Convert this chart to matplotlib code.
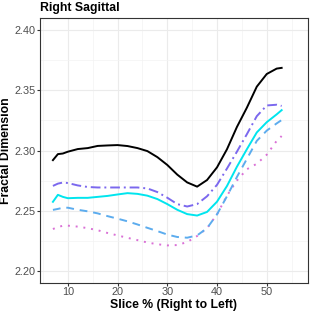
import matplotlib
matplotlib.use("Agg")
from matplotlib import pyplot as plt
from matplotlib.ticker import MultipleLocator

plt.rcParams['font.family'] = ['Liberation Sans', 'DejaVu Sans']

# slice positions (% right to left)
slice_pct = [7, 8, 9, 10, 12, 14, 16, 18, 20, 22, 24, 26, 28, 30, 32, 34,
             36, 38, 40, 42, 44, 46, 48, 50, 52, 53]

fd_black = [2.2920, 2.2970, 2.2975, 2.2990, 2.3012, 2.3020, 2.3038, 2.3042,
            2.3045, 2.3037, 2.3020, 2.2995, 2.2945, 2.2880, 2.2800, 2.2735,
            2.2700, 2.2755, 2.2860, 2.3010, 2.3195, 2.3355, 2.3530, 2.3635,
            2.3680, 2.3686]
fd_dashdot = [2.2706, 2.2725, 2.2734, 2.2730, 2.2710, 2.2697, 2.2693, 2.2693,
              2.2693, 2.2693, 2.2693, 2.2685, 2.2655, 2.2608, 2.2555, 2.2535,
              2.2555, 2.2620, 2.2715, 2.2850, 2.2990, 2.3135, 2.3285, 2.3374,
              2.3380, 2.3370]
fd_cyan = [2.2574, 2.2632, 2.2615, 2.2604, 2.2607, 2.2607, 2.2615, 2.2623,
           2.2635, 2.2646, 2.2640, 2.2625, 2.2597, 2.2555, 2.2508, 2.2472,
           2.2460, 2.2490, 2.2575, 2.2705, 2.2865, 2.3010, 2.3150, 2.3235,
           2.3300, 2.3335]
fd_dashed = [2.2507, 2.2515, 2.2525, 2.2525, 2.2508, 2.2495, 2.2478, 2.2455,
             2.2434, 2.2412, 2.2386, 2.2358, 2.2331, 2.2302, 2.2282, 2.2276,
             2.2295, 2.2355, 2.2470, 2.2620, 2.2780, 2.2930, 2.3080, 2.3165,
             2.3225, 2.3253]
fd_dotted = [2.2348, 2.2365, 2.2375, 2.2376, 2.2368, 2.2355, 2.2338, 2.2315,
             2.2295, 2.2275, 2.2256, 2.2236, 2.2222, 2.2212, 2.2215, 2.2240,
             2.2290, 2.2355, 2.2470, 2.2625, 2.2750, 2.2844, 2.2890, 2.2965,
             2.3080, 2.3120]

fig = plt.figure(figsize=(3.12, 3.12), dpi=100)
ax = fig.add_axes([40 / 312, 29 / 312, 268 / 312, 265 / 312])

ax.plot(slice_pct, fd_dotted, color="#DA70D6", lw=1.4, ls=(0, (1, 3)))
ax.plot(slice_pct, fd_dashed, color="#5CACEE", lw=1.4, ls=(0, (4, 3)))
ax.plot(slice_pct, fd_cyan, color="#00E5EE", lw=1.4, ls="-")
ax.plot(slice_pct, fd_dashdot, color="#7B68EE", lw=1.4, ls=(0, (5, 2, 1, 2)))
ax.plot(slice_pct, fd_black, color="black", lw=1.4, ls="-")

ax.set_xlim(4.4, 58.3)
ax.set_ylim(2.19, 2.41)
ax.xaxis.set_major_locator(MultipleLocator(10))
ax.xaxis.set_minor_locator(MultipleLocator(5))
ax.yaxis.set_minor_locator(MultipleLocator(0.025))
ax.set_yticks([2.20, 2.25, 2.30, 2.35, 2.40])
ax.set_yticklabels(["2.20", "2.25", "2.30", "2.35", "2.40"])
ax.grid(which="major", color="#EBEBEB", lw=0.8)
ax.grid(which="minor", color="#F3F3F3", lw=0.5)
ax.set_axisbelow(True)
ax.tick_params(which="major", length=2.2, color="#333333", labelcolor="#4D4D4D",
               labelsize=7.8, pad=0.8)
ax.tick_params(which="minor", length=0)
for s in ax.spines.values():
    s.set_color("#333333")
    s.set_linewidth(0.8)

ax.set_xlabel("Slice % (Right to Left)", fontsize=8.8, fontweight="bold", labelpad=1.5)
ax.set_ylabel("Fractal Dimension", fontsize=8.8, fontweight="bold", labelpad=2)
ax.set_title("Right Sagittal", fontsize=8.8, fontweight="bold", loc="left", pad=5)

fig.savefig("out.png", dpi=100)
